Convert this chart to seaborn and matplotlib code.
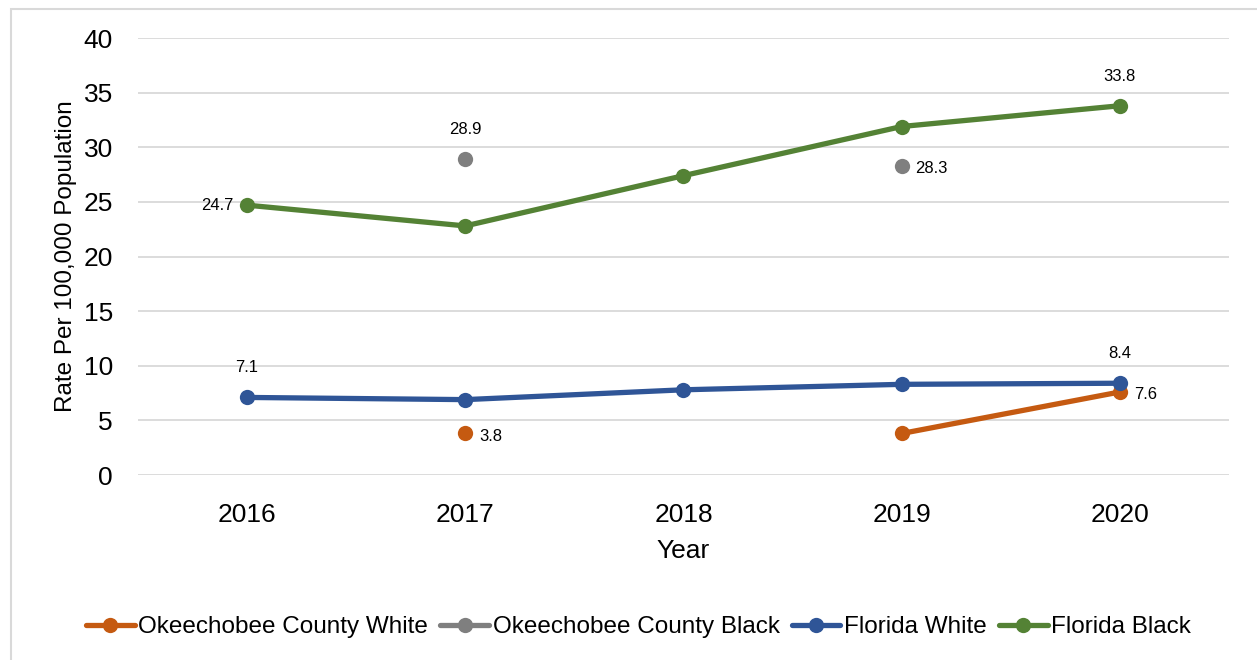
import matplotlib
matplotlib.use('Agg')

import numpy as np
import pandas as pd
import seaborn as sns
import matplotlib.pyplot as plt
from matplotlib.lines import Line2D
from matplotlib.patches import Rectangle

years = [2016, 2017, 2018, 2019, 2020]
series_names = ['Okeechobee County White', 'Okeechobee County Black',
                'Florida White', 'Florida Black']
okee_white = [np.nan, 3.8, np.nan, 3.8, 7.6]
okee_black = [np.nan, 28.9, np.nan, 28.3, np.nan]
fl_white = [7.1, 6.9, 7.8, 8.3, 8.4]
fl_black = [24.7, 22.8, 27.4, 31.9, 33.8]

# which points carry a data label, and where it sits
labels = {
    'Okeechobee County White': {2017: 'right', 2020: 'right'},
    'Okeechobee County Black': {2017: 'above', 2019: 'right'},
    'Florida White': {2016: 'above', 2020: 'above'},
    'Florida Black': {2016: 'left', 2020: 'above'},
}

colors = ['#C55A11', '#7F7F7F', '#2F5597', '#548235']

# long table, broken into segments wherever a value is missing
rows = []
for name, vals in zip(series_names, [okee_white, okee_black, fl_white, fl_black]):
    seg = 0
    for yr, v in zip(years, vals):
        if np.isnan(v):
            seg += 1
            continue
        rows.append({'series': name, 'year': yr, 'rate': v, 'seg': seg})
df = pd.DataFrame(rows)

sns.set_style('white')
plt.rcParams['font.family'] = ['Liberation Sans', 'DejaVu Sans']
plt.rcParams['text.color'] = 'black'
plt.rcParams['axes.labelcolor'] = 'black'
plt.rcParams['xtick.color'] = 'black'
plt.rcParams['ytick.color'] = 'black'

fig = plt.figure(figsize=(12.57, 6.6), dpi=100)
ax = fig.add_axes([0.1098, 0.2803, 0.8679, 0.6621])

sns.lineplot(data=df, x='year', y='rate', hue='series', units='seg',
             estimator=None, palette=dict(zip(series_names, colors)),
             hue_order=series_names, marker='o', markersize=11,
             markeredgewidth=0, linewidth=3.8, sort=True, legend=False, ax=ax)

for name, vals in zip(series_names, [okee_white, okee_black, fl_white, fl_black]):
    for yr, pos in labels[name].items():
        v = vals[years.index(yr)]
        if pos == 'above':
            ax.annotate(f'{v:.1f}', (yr, v), xytext=(0, 16), textcoords='offset points',
                        ha='center', va='bottom', fontsize=12)
        elif pos == 'right':
            ax.annotate(f'{v:.1f}', (yr, v), xytext=(10, -2), textcoords='offset points',
                        ha='left', va='center', fontsize=12)
        else:
            ax.annotate(f'{v:.1f}', (yr, v), xytext=(-10, 0), textcoords='offset points',
                        ha='right', va='center', fontsize=12)

ax.set_xlim(2015.5, 2020.5)
ax.set_ylim(0, 40)
ax.set_xticks(years)
ax.set_xticklabels([str(y) for y in years])
ax.set_yticks(range(0, 41, 5))
ax.tick_params(axis='both', labelsize=19, length=0)
ax.tick_params(axis='x', pad=20)
ax.tick_params(axis='y', pad=18)
ax.yaxis.grid(True, color='#D9D9D9', linewidth=1.3)
ax.xaxis.grid(False)
for s in ax.spines.values():
    s.set_visible(False)
ax.set_xlabel('Year', fontsize=19, labelpad=9)
ax.set_ylabel('Rate Per 100,000 Population', fontsize=17.5, labelpad=5)

handles = [Line2D([0], [0], color=c, linewidth=3.8, marker='o', markersize=11,
                  markeredgewidth=0) for c in colors]
fig.legend(handles, series_names, loc='center', bbox_to_anchor=(0.508, 0.05),
           ncol=4, frameon=False, fontsize=17.5, handlelength=2.0,
           handletextpad=0.15, columnspacing=0.5)

fig.patches.append(Rectangle((11 / 1257, -0.1), 1.2, 1.1 - 9 / 660,
                             transform=fig.transFigure, fill=False,
                             edgecolor='#D9D9D9', linewidth=1.5, zorder=-1))

fig.savefig('out.png', dpi=100)
